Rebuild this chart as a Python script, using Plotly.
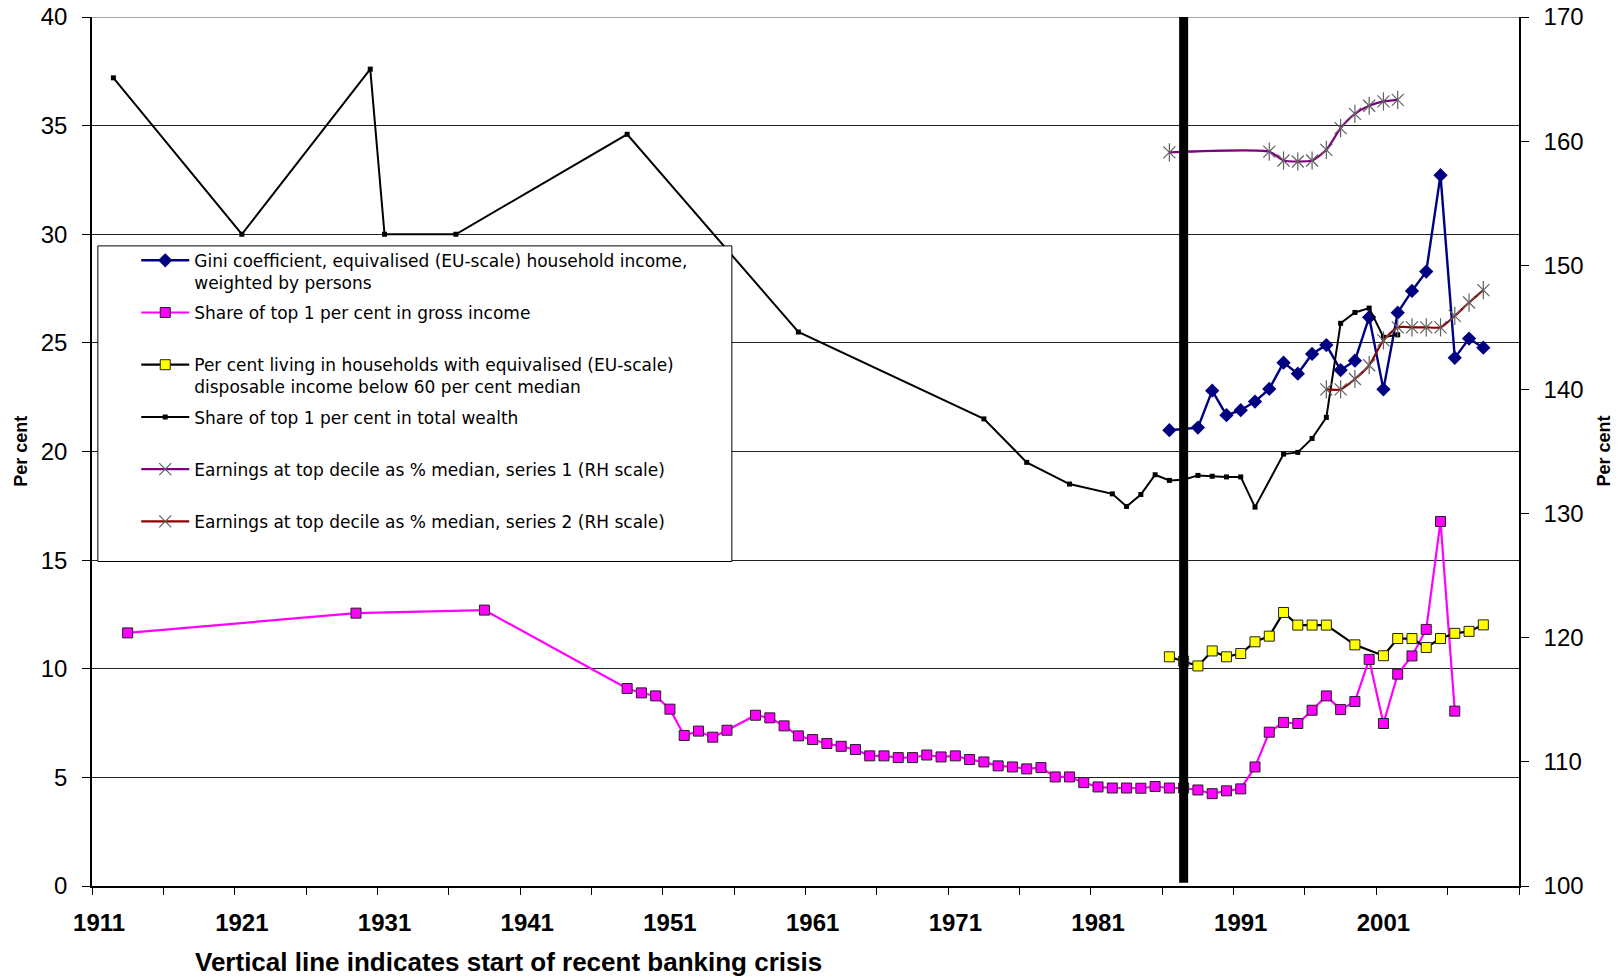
import plotly.graph_objects as go

# ---------------- data ----------------
tick_years = [1911, 1921, 1931, 1941, 1951, 1961, 1971, 1981, 1991, 2001]
crisis_year = 1987
left_range = [0, 40]
right_range = [100, 170]

gini_years = [1986, 1988, 1989, 1990, 1991, 1992, 1993, 1994, 1995, 1996, 1997,
              1998, 1999, 2000, 2001, 2002, 2003, 2004, 2005, 2006, 2007, 2008]
gini = [20.98, 21.1, 22.8, 21.67, 21.9, 22.3, 22.88, 24.09, 23.58, 24.49, 24.9,
        23.75, 24.18, 26.18, 22.86, 26.39, 27.39, 28.28, 32.72, 24.31, 25.2, 24.78]

income_years = [1913, 1929, 1938, 1948, 1949, 1950, 1951, 1952, 1953, 1954, 1955,
                1957, 1958, 1959, 1960, 1961, 1962, 1963, 1964, 1965, 1966, 1967,
                1968, 1969, 1970, 1971, 1972, 1973, 1974, 1975, 1976, 1977, 1978,
                1979, 1980, 1981, 1982, 1983, 1984, 1985, 1986, 1987, 1988, 1989,
                1990, 1991, 1992, 1993, 1994, 1995, 1996, 1997, 1998, 1999, 2000,
                2001, 2002, 2003, 2004, 2005, 2006]
income_top1 = [11.65, 12.56, 12.7, 9.09, 8.89, 8.75, 8.14, 6.93, 7.13, 6.85, 7.17,
               7.86, 7.74, 7.37, 6.91, 6.74, 6.56, 6.43, 6.28, 5.99, 5.99, 5.91,
               5.91, 6.03, 5.94, 5.99, 5.82, 5.71, 5.53, 5.48, 5.39, 5.45, 5.02,
               5.02, 4.76, 4.56, 4.51, 4.51, 4.5, 4.58, 4.51, 4.51, 4.42, 4.25,
               4.38, 4.47, 5.48, 7.08, 7.53, 7.48, 8.09, 8.75, 8.12, 8.49, 10.43,
               7.48, 9.75, 10.59, 11.81, 16.78, 8.05]

poverty_years = [1986, 1987, 1988, 1989, 1990, 1991, 1992, 1993, 1994, 1995, 1996,
                 1997, 1999, 2001, 2002, 2003, 2004, 2005, 2006, 2007, 2008]
poverty = [10.55, 10.35, 10.13, 10.82, 10.55, 10.7, 11.24, 11.5, 12.59, 12.01, 12.01,
           12.01, 11.1, 10.6, 11.39, 11.39, 10.98, 11.39, 11.63, 11.72, 12.02]

wealth_years = [1912, 1921, 1930, 1931, 1936, 1948, 1960, 1973, 1976, 1979, 1982,
                1983, 1984, 1985, 1986, 1987, 1988, 1989, 1990, 1991, 1992, 1994,
                1995, 1996, 1997, 1998, 1999, 2000, 2001, 2002]
wealth_top1 = [37.2, 30.0, 37.6, 30.0, 30.0, 34.6, 25.5, 21.5, 19.5, 18.5, 18.05,
               17.47, 18.02, 18.93, 18.67, 18.7, 18.9, 18.86, 18.83, 18.83, 17.44, 19.88,
               19.96, 20.6, 21.57, 25.9, 26.4, 26.6, 25.26, 25.37]

earn1_years = [1986, 1993, 1994, 1995, 1996, 1997, 1998, 1999, 2000, 2001, 2002]
earn1 = [159.1, 159.15, 158.44, 158.36, 158.44, 159.3, 161.05, 162.2, 162.85, 163.2, 163.33]

earn2_years = [1997, 1998, 1999, 2000, 2001, 2002, 2003, 2004, 2005, 2006, 2007, 2008]
earn2 = [140.0, 140.0, 140.84, 141.95, 143.95, 145.0, 145.0, 145.0, 145.0, 145.92, 147.0, 148.0]

names = [
    "Gini coefficient, equivalised (EU-scale) household income,<br>weighted by persons",
    "Share of top 1 per cent in gross income<br> ",
    "Per cent living in households with equivalised (EU-scale)<br>disposable income below 60 per cent median",
    "Share of top 1 per cent in total wealth<br> ",
    "Earnings at top decile as % median, series 1 (RH scale)<br> ",
    "Earnings at top decile as % median, series 2 (RH scale)<br> ",
]

# ---------------- figure ----------------
fig = go.Figure()

fig.add_trace(go.Scatter(
    x=gini_years, y=gini, name=names[0], mode="lines+markers", legendgroup="g1",
    line=dict(color="#000080", width=2.4),
    marker=dict(symbol="diamond", size=11, color="#000080")))

fig.add_trace(go.Scatter(
    x=income_years, y=income_top1, name=names[1], mode="lines+markers", legendgroup="g2",
    line=dict(color="#FF00FF", width=2.2),
    marker=dict(symbol="square", size=10, color="#FF00FF", line=dict(color="#202020", width=1))))

fig.add_trace(go.Scatter(
    x=poverty_years, y=poverty, name=names[2], mode="lines+markers", legendgroup="g3",
    line=dict(color="#000000", width=2.2),
    marker=dict(symbol="square", size=10, color="#FFFF00", line=dict(color="#202020", width=1))))

fig.add_trace(go.Scatter(
    x=wealth_years, y=wealth_top1, name=names[3], mode="lines+markers", legendgroup="g4",
    line=dict(color="#000000", width=2),
    marker=dict(symbol="square", size=5, color="#000000")))

for yrs, vals, nm, col, grp in [(earn1_years, earn1, names[4], "#800080", "g5"),
                                (earn2_years, earn2, names[5], "#8B0000", "g6")]:
    fig.add_trace(go.Scatter(
        x=yrs, y=vals, name=nm, mode="lines+markers", yaxis="y2", legendgroup=grp,
        line=dict(color=col, width=2.2, shape="spline", smoothing=0.6),
        marker=dict(symbol="x-thin-open", size=12, color="#606060", line=dict(color="#606060", width=1.2))))
    fig.add_trace(go.Scatter(
        x=yrs, y=vals, mode="markers", yaxis="y2", legendgroup=grp, showlegend=False,
        marker=dict(symbol="line-ns-open", size=13, color="#606060", line=dict(color="#606060", width=1.2))))

# top gridline at the upper end of the left scale
fig.add_shape(type="line", xref="paper", yref="y", x0=0, x1=1, y0=left_range[1], y1=left_range[1],
              line=dict(color="#505050", width=1.2), layer="below")

# legend box (drawn as a shape so the plotly legend sits on it)
fig.add_shape(type="rect", xref="paper", yref="paper", x0=0.0041, x1=0.4484, y0=0.3734, y1=0.7366,
              fillcolor="white", line=dict(color="black", width=1), layer="above")

# crisis vertical line
fig.add_shape(type="line", xref="x", yref="y", x0=crisis_year, x1=crisis_year, y0=0.15, y1=left_range[1],
              line=dict(color="black", width=9), layer="above")

axis_font = dict(family="Liberation Sans, Arial", size=24, color="black")
narrow_bold = "Liberation Sans Narrow, Arial Narrow, Liberation Sans"

fig.update_layout(
    width=1621, height=979,
    margin=dict(l=92, r=102, t=17, b=93, pad=0, autoexpand=False),
    paper_bgcolor="white", plot_bgcolor="white",
    showlegend=True,
    legend=dict(x=0.031, y=0.7402, xanchor="left", yanchor="top",
                bgcolor="rgba(0,0,0,0)", borderwidth=0,
                font=dict(family="DejaVu Sans", size=17, color="black"),
                itemwidth=48, valign="top", tracegroupgap=5, traceorder="grouped"),
    xaxis=dict(range=[1910.5, 2010.5], tickmode="array", tickvals=tick_years,
               ticktext=[str(t) for t in tick_years], ticks="", automargin=False,
               tickfont=dict(family=narrow_bold, size=24, color="black", weight="bold"),
               ticklabelstandoff=14,
               showline=True, linecolor="black", linewidth=2, showgrid=False, zeroline=False,
               minor=dict(tick0=1910.5, dtick=5, ticks="outside", ticklen=7, tickcolor="black",
                          tickwidth=1, showgrid=False)),
    yaxis=dict(range=left_range, dtick=5, tick0=0, ticks="outside", ticklen=8, tickcolor="black",
               tickfont=axis_font, ticklabelstandoff=10, automargin=False,
               showline=True, linecolor="black", linewidth=1.5,
               showgrid=True, gridcolor="#202020", gridwidth=1, zeroline=False),
    yaxis2=dict(range=right_range, dtick=10, tick0=100, overlaying="y", side="right",
                ticks="outside", ticklen=8, tickcolor="black", tickfont=axis_font,
                ticklabelstandoff=10, automargin=False,
                showline=True, linecolor="black", linewidth=1.5, showgrid=False, zeroline=False),
    annotations=[
        dict(text="Vertical line indicates start of recent banking crisis", xref="paper", yref="paper",
             x=0.292, y=-0.0875, xanchor="center", yanchor="middle", showarrow=False,
             font=dict(family=narrow_bold, size=26, color="black", weight="bold")),
        dict(text="Per cent", xref="paper", yref="paper", x=-0.0502, y=0.5, textangle=-90,
             xanchor="center", yanchor="middle", showarrow=False,
             font=dict(family="Liberation Sans, Arial", size=18, color="black", weight="bold")),
        dict(text="Per cent", xref="paper", yref="paper", x=1.0589, y=0.5, textangle=-90,
             xanchor="center", yanchor="middle", showarrow=False,
             font=dict(family="Liberation Sans, Arial", size=18, color="black", weight="bold")),
    ],
)

fig.write_html("out.html", config={"displayModeBar": False},
               post_script="document.body.style.margin='0px';document.body.style.overflow='hidden';")
